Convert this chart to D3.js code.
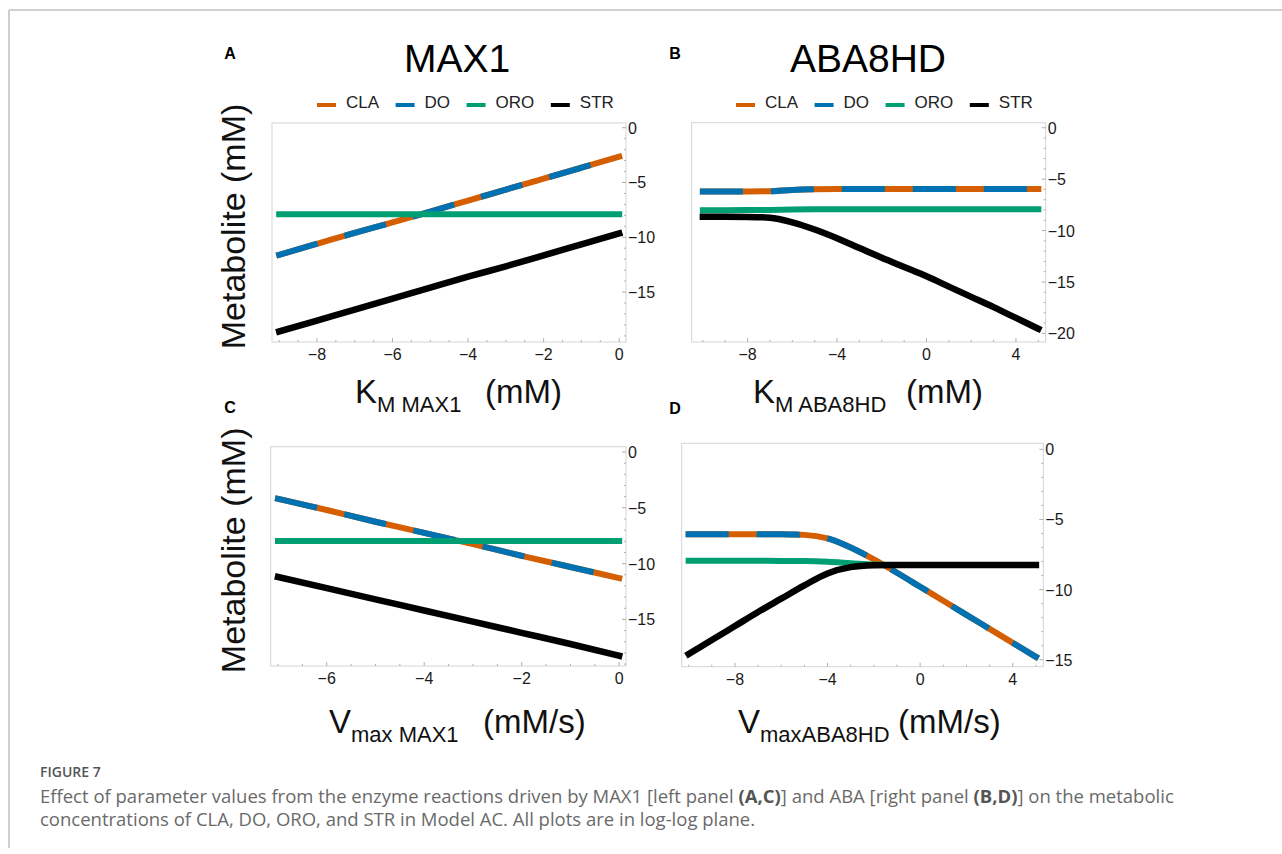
<!DOCTYPE html>
<html>
<head>
<meta charset="utf-8">
<script src="https://cdn.jsdelivr.net/npm/d3@7"></script>
<style>
  body { margin: 0; background: #fff; }
  svg text { font-family: "Liberation Sans", Arial, sans-serif; }
  .cap { font-family: "Open Sans", sans-serif !important; }
</style>
</head>
<body>
<svg width="1282" height="854"></svg>
<script>

// series names + colours (legend order)
var seriesNames = ["CLA", "DO", "ORO", "STR"];
var seriesColors = ["#D55E00", "#0072B2", "#009E73", "#000000"];

// panel A : K_M MAX1
var xA = [-9, -8, -7, -6, -5, -4, -3, -2, -1, 0];
var claA = [-11.6, -10.6, -9.6, -8.65, -7.65, -6.65, -5.65, -4.65, -3.65, -2.65];
var doA = [-11.6, -10.6, -9.6, -8.65, -7.65, -6.65, -5.65, -4.65, -3.65, -2.65];
var oroA = [-7.9, -7.9, -7.9, -7.9, -7.9, -7.9, -7.9, -7.9, -7.9, -7.9];
var strA = [-18.6, -17.6, -16.6, -15.6, -14.6, -13.6, -12.65, -11.65, -10.65, -9.65];

// panel B : K_M ABA8HD
var xB = [-10, -9, -8, -7, -6, -5, -4, -3, -2, -1, 0, 1, 2, 3, 4, 5];
var claB = [-6.2, -6.2, -6.2, -6.18, -6.05, -5.98, -5.96, -5.96, -5.96, -5.96, -5.96, -5.96, -5.96, -5.96, -5.96, -5.96];
var doB = [-6.2, -6.2, -6.2, -6.18, -6.05, -5.98, -5.96, -5.96, -5.96, -5.96, -5.96, -5.96, -5.96, -5.96, -5.96, -5.96];
var oroB = [-8.02, -8.02, -8.01, -7.99, -7.95, -7.93, -7.92, -7.92, -7.92, -7.92, -7.92, -7.92, -7.92, -7.92, -7.92, -7.92];
var strB = [-8.66, -8.66, -8.67, -8.75, -9.2, -9.9, -10.75, -11.7, -12.65, -13.55, -14.45, -15.45, -16.45, -17.45, -18.5, -19.55];

// panel C : Vmax MAX1
var xC = [-7, -6, -5, -4, -3, -2, -1, 0];
var claC = [-4.2, -5.2, -6.25, -7.25, -8.25, -9.3, -10.3, -11.3];
var doC = [-4.2, -5.2, -6.25, -7.25, -8.25, -9.3, -10.3, -11.3];
var oroC = [-7.97, -7.97, -7.97, -7.97, -7.97, -7.97, -7.97, -7.97];
var strC = [-11.2, -12.2, -13.2, -14.2, -15.2, -16.2, -17.2, -18.25];

// panel D : Vmax ABA8HD
var xD = [-10, -9, -8, -7, -6, -5, -4, -3, -2, -1, 0, 1, 2, 3, 4, 5];
var claD = [-6.05, -6.05, -6.05, -6.05, -6.06, -6.1, -6.35, -7.0, -7.85, -8.8, -9.8, -10.8, -11.8, -12.8, -13.8, -14.8];
var doD = [-6.05, -6.05, -6.05, -6.05, -6.06, -6.1, -6.35, -7.0, -7.85, -8.8, -9.8, -10.8, -11.8, -12.8, -13.8, -14.8];
var oroD = [-7.95, -7.95, -7.95, -7.95, -7.96, -7.97, -8.02, -8.12, -8.22, -8.24, -8.24, -8.24, -8.24, -8.24, -8.24, -8.24];
var strD = [-14.6, -13.6, -12.6, -11.6, -10.65, -9.7, -8.85, -8.4, -8.27, -8.24, -8.24, -8.24, -8.24, -8.24, -8.24, -8.24];

// tick values
var xTicksA = [-8, -6, -4, -2, 0];
var xTicksB = [-8, -4, 0, 4];
var xTicksC = [-6, -4, -2, 0];
var xTicksD = [-8, -4, 0, 4];
var yTicksA = [0, -5, -10, -15];
var yTicksB = [0, -5, -10, -15, -20];
var yTicksC = [0, -5, -10, -15];
var yTicksD = [0, -5, -10, -15];

var panels = [
  { letter: "A", title: "MAX1", titleX: 457, x: xA, ys: [claA, doA, oroA, strA], xt: xTicksA, yt: yTicksA, minor: 0.5,
    xdom: [-9.19, 0.18], ydom: [-19.56, 0.43], box: [272, 123, 626, 342],
    lab: ["K", "M MAX1", "(mM)"], labX: [355, 485], labY: 403, legX: 317, letterX: 230, letterY: 59, ylab: true },
  { letter: "B", title: "ABA8HD", titleX: 868, x: xB, ys: [claB, doB, oroB, strB], xt: xTicksB, yt: yTicksB, minor: 1,
    xdom: [-10.5, 5.33], ydom: [-20.84, 0.49], box: [691.7, 122.7, 1045.7, 342],
    lab: ["K", "M ABA8HD", "(mM)"], labX: [753, 906], labY: 403, legX: 736, letterX: 675, letterY: 59, ylab: false },
  { letter: "C", title: null, x: xC, ys: [claC, doC, oroC, strC], xt: xTicksC, yt: yTicksC, minor: 0.5,
    xdom: [-7.15, 0.14], ydom: [-19.17, 0.47], box: [270.7, 446.7, 626, 666],
    lab: ["V", "max MAX1", "(mM/s)"], labX: [329, 483], labY: 733, legX: null, letterX: 230, letterY: 413, ylab: true },
  { letter: "D", title: null, x: xD, ys: [claD, doD, oroD, strD], xt: xTicksD, yt: yTicksD, minor: 1,
    xdom: [-10.3, 5.32], ydom: [-15.5, 0.43], box: [681.7, 443.3, 1043.3, 666.7],
    lab: ["V", "maxABA8HD", "(mM/s)"], labX: [738, 898], labY: 733, legX: null, letterX: 675, letterY: 414, ylab: false }
];

var svg = d3.select("svg");

// page card border (top + left)
svg.append("line").attr("x1", 9).attr("y1", 10).attr("x2", 1282).attr("y2", 10)
    .attr("stroke", "#cfcfcf").attr("stroke-width", 2);
svg.append("line").attr("x1", 9).attr("y1", 10).attr("x2", 9).attr("y2", 848)
    .attr("stroke", "#cfcfcf").attr("stroke-width", 2);

var fmt = d3.format("d");

panels.forEach(function(p) {
  var x = d3.scaleLinear().domain(p.xdom).range([p.box[0], p.box[2]]);
  var y = d3.scaleLinear().domain(p.ydom).range([p.box[3], p.box[1]]);
  var g = svg.append("g");

  // frame
  g.append("rect")
      .attr("x", p.box[0]).attr("y", p.box[1])
      .attr("width", p.box[2] - p.box[0]).attr("height", p.box[3] - p.box[1])
      .attr("fill", "none").attr("stroke", "#d4d4d4").attr("stroke-width", 1);

  // minor + major ticks, bottom
  var xmin = d3.range(Math.ceil(p.xdom[0] / p.minor) * p.minor, p.xdom[1], p.minor);
  g.selectAll(".xmin").data(xmin).enter().append("line")
      .attr("x1", function(d) { return x(d); }).attr("x2", function(d) { return x(d); })
      .attr("y1", p.box[3]).attr("y2", function(d) { return p.xt.indexOf(d) >= 0 ? p.box[3] - 4 : p.box[3] - 2; })
      .attr("stroke", "#b0b0b0").attr("stroke-width", 1);

  // right ticks
  var ymin = d3.range(Math.ceil(p.ydom[0]), p.ydom[1], 1);
  g.selectAll(".ymin").data(ymin).enter().append("line")
      .attr("y1", function(d) { return y(d); }).attr("y2", function(d) { return y(d); })
      .attr("x1", p.box[2]).attr("x2", function(d) { return p.yt.indexOf(d) >= 0 ? p.box[2] - 4 : p.box[2] - 2; })
      .attr("stroke", "#b0b0b0").attr("stroke-width", 1);

  g.selectAll(".xl").data(p.xt).enter().append("text")
      .attr("x", function(d) { return x(d); })
      .attr("y", p.box[3] + 18)
      .attr("text-anchor", "middle")
      .attr("font-size", 16).attr("fill", "#1a1a1a")
      .text(function(d) { return fmt(d); });

  g.selectAll(".yl").data(p.yt).enter().append("text")
      .attr("x", p.box[2] + 2)
      .attr("y", function(d) { return y(d) + 6; })
      .attr("font-size", 16).attr("fill", "#1a1a1a")
      .text(function(d) { return fmt(d); });

  // series
  var line = d3.line()
      .x(function(d) { return x(d[0]); })
      .y(function(d) { return y(d[1]); })
      .curve(d3.curveMonotoneX);

  p.ys.forEach(function(vals, i) {
    var pts = p.x.map(function(xx, j) { return [xx, vals[j]]; });
    var path = g.append("path")
        .datum(pts)
        .attr("d", line)
        .attr("fill", "none")
        .attr("stroke", seriesColors[i])
        .attr("stroke-width", i == 3 ? 6.5 : 6)
        .attr("stroke-linecap", "square");
    if (seriesNames[i] == "DO") {
      path.attr("stroke-dasharray", "37 34");
    }
  });

  // panel letter
  svg.append("text")
      .attr("x", p.letterX).attr("y", p.letterY)
      .attr("text-anchor", "middle")
      .attr("font-size", 16).attr("font-weight", "bold")
      .text(p.letter);

  // title
  if (p.title) {
    svg.append("text")
        .attr("x", p.titleX).attr("y", 72)
        .attr("text-anchor", "middle")
        .attr("font-size", 39)
        .text(p.title);
  }

  // legend
  if (p.legX != null) {
    var lx = p.legX;
    seriesNames.forEach(function(nm, i) {
      svg.append("line")
          .attr("x1", lx).attr("x2", lx + 19)
          .attr("y1", 105).attr("y2", 105)
          .attr("stroke", seriesColors[i]).attr("stroke-width", 4);
      var t = svg.append("text")
          .attr("x", lx + 29).attr("y", 107.5)
          .attr("font-size", 17).attr("fill", "#222")
          .text(nm);
      lx = lx + 29 + t.node().getComputedTextLength() + 16.5;
    });
  }

  // x label with subscript
  var xl = svg.append("text").attr("y", p.labY).attr("font-size", 33).attr("fill", "#111");
  xl.append("tspan").attr("x", p.labX[0]).text(p.lab[0]);
  xl.append("tspan").attr("dy", 8.7).attr("font-size", 22).text(p.lab[1]);
  xl.append("tspan").attr("x", p.labX[1]).attr("dy", -8.7).text(p.lab[2]);

  // y label
  if (p.ylab) {
    var cy = (p.box[1] + p.box[3]) / 2;
    svg.append("text")
        .attr("transform", "translate(245," + (cy - 6) + ") rotate(-90)")
        .attr("text-anchor", "middle")
        .attr("font-size", 34).attr("fill", "#111")
        .text("Metabolite (mM)");
  }
});

// caption
svg.append("text").attr("class", "cap")
    .attr("x", 40).attr("y", 777)
    .attr("font-size", 14).attr("font-weight", 600).attr("fill", "#555")
    .text("FIGURE 7");

var cap1 = svg.append("text").attr("class", "cap")
    .attr("x", 40).attr("y", 803).attr("font-size", 18.5).attr("fill", "#6a6a6a");
cap1.append("tspan").text("Effect of parameter values from the enzyme reactions driven by MAX1 [left panel ");
cap1.append("tspan").attr("font-weight", "bold").attr("fill", "#555").text("(A,C)");
cap1.append("tspan").text("] and ABA [right panel ");
cap1.append("tspan").attr("font-weight", "bold").attr("fill", "#555").text("(B,D)");
cap1.append("tspan").text("] on the metabolic");

svg.append("text").attr("class", "cap")
    .attr("x", 40).attr("y", 826).attr("font-size", 18.5).attr("fill", "#6a6a6a")
    .text("concentrations of CLA, DO, ORO, and STR in Model AC. All plots are in log-log plane.");

</script>
</body>
</html>
